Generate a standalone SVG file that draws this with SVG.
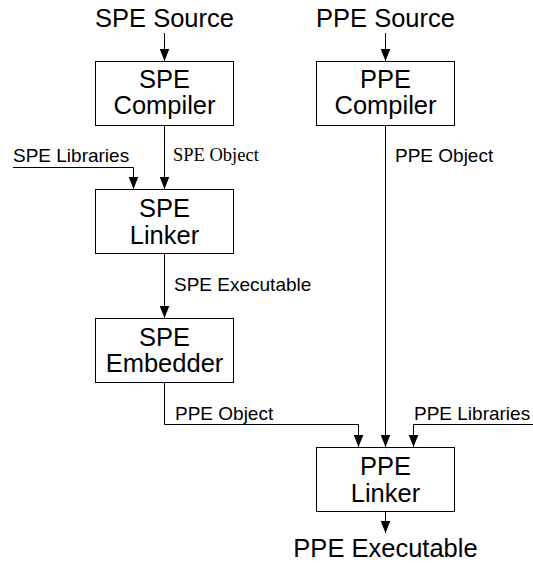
<svg xmlns="http://www.w3.org/2000/svg" width="533" height="563" viewBox="0 0 533 563">
  <style>
    .box { fill: #ffffff; stroke: #000000; stroke-width: 1; }
    .big { font-family: "Liberation Sans", Arial, sans-serif; font-size: 25.5px; fill: #000000; text-anchor: middle; }
    .lbl { font-family: "Liberation Sans", Arial, sans-serif; font-size: 19px; fill: #000000; }
    .serif { font-family: "Liberation Serif", "Times New Roman", serif; font-size: 18.5px; fill: #000000; }
    .wire { fill: none; stroke: #000000; stroke-width: 1; marker-end: url(#arrow); }
  </style>
  <defs>
    <!-- filled arrowhead, tip at the end of each connector -->
    <marker id="arrow" markerUnits="userSpaceOnUse" markerWidth="13" markerHeight="10" refX="12.5" refY="5" orient="auto" viewBox="0 0 13 10">
      <path d="M0,0 L12.5,5 L0,10 Z" fill="#000000"/>
    </marker>
  </defs>
  <rect width="533" height="563" fill="#ffffff"/>

  <!-- connectors -->
  <g id="connectors">
    <path class="wire" d="M164.5,33 V61"/>
    <path class="wire" d="M385.5,33 V61"/>
    <path class="wire" d="M164.5,125 V189"/>
    <path class="wire" d="M13,167.5 H133.5 V189"/>
    <path class="wire" d="M164.5,253 V318"/>
    <path class="wire" d="M164.5,383 V424.5 H358.5 V447"/>
    <path class="wire" d="M385.5,125 V447"/>
    <path class="wire" d="M533,424.5 H413.5 V447"/>
    <path class="wire" d="M385.5,511 V533"/>
    <text class="serif" x="173" y="161">SPE Object</text>
    <text class="lbl" x="13" y="162">SPE Libraries</text>
    <text class="lbl" x="174" y="291">SPE Executable</text>
    <text class="lbl" x="175" y="420">PPE Object</text>
    <text class="lbl" x="395" y="162">PPE Object</text>
    <text class="lbl" x="414" y="420">PPE Libraries</text>
  </g>

  <g id="spe-source">
    <text class="big" x="164.5" y="27">SPE Source</text>
  </g>
  <g id="ppe-source">
    <text class="big" x="385.5" y="27">PPE Source</text>
  </g>

  <g id="spe-compiler">
    <rect class="box" x="95.5" y="61.5" width="138" height="64"/>
    <text class="big" x="164.5" y="88">SPE</text>
    <text class="big" x="164.5" y="114">Compiler</text>
  </g>
  <g id="ppe-compiler">
    <rect class="box" x="316.5" y="61.5" width="138" height="64"/>
    <text class="big" x="385.5" y="88">PPE</text>
    <text class="big" x="385.5" y="114">Compiler</text>
  </g>
  <g id="spe-linker">
    <rect class="box" x="95.5" y="189.5" width="138" height="64"/>
    <text class="big" x="164.5" y="217">SPE</text>
    <text class="big" x="164.5" y="243.5">Linker</text>
  </g>
  <g id="spe-embedder">
    <rect class="box" x="95.5" y="318.5" width="138" height="64"/>
    <text class="big" x="164.5" y="345.5">SPE</text>
    <text class="big" x="164.5" y="372">Embedder</text>
  </g>
  <g id="ppe-linker">
    <rect class="box" x="316.5" y="447.5" width="138" height="64"/>
    <text class="big" x="385.5" y="475">PPE</text>
    <text class="big" x="385.5" y="502">Linker</text>
  </g>
  <g id="ppe-executable">
    <text class="big" x="385.5" y="557">PPE Executable</text>
  </g>
</svg>
